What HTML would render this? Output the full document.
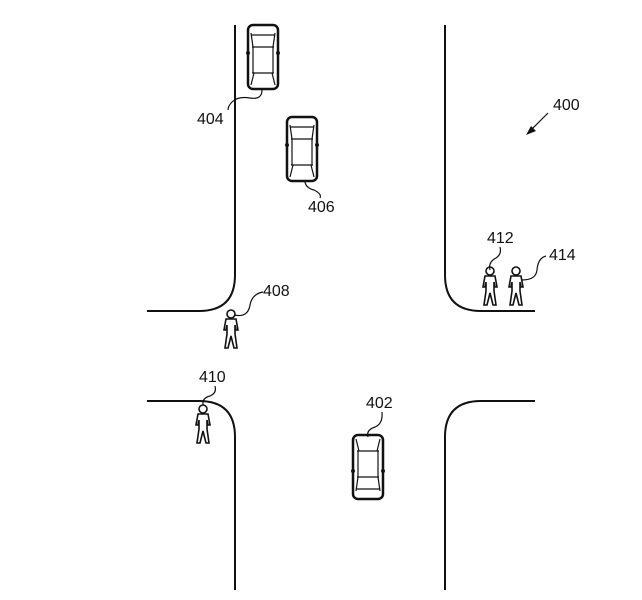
<!DOCTYPE html>
<html><head><meta charset="utf-8"><style>html,body{margin:0;padding:0;background:#fff}svg{display:block}text{font-family:"Liberation Sans",sans-serif;font-size:16px;fill:#111}</style></head><body>
<svg width="642" height="600" viewBox="0 0 642 600" xmlns="http://www.w3.org/2000/svg">
<defs>
<g id="car" fill="none" stroke="#111">
<rect x="-15" y="-32" width="30" height="64" rx="5" stroke-width="2.5"/>
<path d="M-12 -22 L12 -22 M-11 -10 L11 -10 M-10 -10 L-12 -24 M10 -10 L12 -24 M-11 16 L11 16 M-9 16 L-12 28 M9 16 L12 28 M-10 -10 L-10 16 M10 -10 L10 16" stroke-width="1.2"/>
<circle cx="-15" cy="-4" r="1.5" fill="#111"/><circle cx="15" cy="-4" r="1.5" fill="#111"/>
</g>
<g id="ped" fill="#fff" stroke="#111" stroke-width="1.6">
<circle cx="0" cy="-14" r="4"/>
<path d="M-5 -9 L5 -9 L7 2 L5 2 L4 -3 L4 6 L6 20 L3 20 L0 8 L-3 20 L-6 20 L-4 6 L-4 -3 L-5 2 L-7 2 Z"/>
</g>
</defs>
<g fill="none" stroke="#111" stroke-width="2">
<path d="M235 25 L235 275 Q235 311 199 311 L147 311"/>
<path d="M147 401 L199 401 Q235 401 235 437 L235 590"/>
<path d="M445 25 L445 275 Q445 311 481 311 L535 311"/>
<path d="M535 401 L481 401 Q445 401 445 437 L445 590"/>
</g>
<use href="#car" x="263" y="57"/>
<use href="#car" x="302" y="149"/>
<use href="#car" transform="translate(368 467) scale(1 -1)"/>
<use href="#ped" x="231" y="328"/>
<use href="#ped" x="203" y="423"/>
<use href="#ped" x="490" y="285"/>
<use href="#ped" x="516" y="285"/>
<g fill="none" stroke="#111" stroke-width="1.2">
<path d="M262 90 Q262 100 250 98 Q238 96 232 102 Q228 106 228 110"/>
<path d="M305 182 Q306 188 314 190 Q322 194 320 198"/>
<path d="M368 437 Q366 430 375 427 Q383 424 382 412"/>
<path d="M234 315 Q248 318 250 305 Q252 294 263 292"/>
<path d="M203 405 Q202 398 210 396 Q217 393 215 386"/>
<path d="M490 270 Q488 262 496 258 Q502 254 500 247"/>
<path d="M522 280 Q536 280 537 270 Q538 258 546 256"/>
<path d="M528 133 L548 113"/>
</g>
<path d="M526 135 L536 131 L531 126 Z" fill="#111"/>
<text x="197" y="124">404</text>
<text x="308" y="212">406</text>
<text x="263" y="296">408</text>
<text x="199" y="382">410</text>
<text x="366" y="408">402</text>
<text x="487" y="243">412</text>
<text x="549" y="260">414</text>
<text x="553" y="110">400</text>
</svg>
</body></html>
